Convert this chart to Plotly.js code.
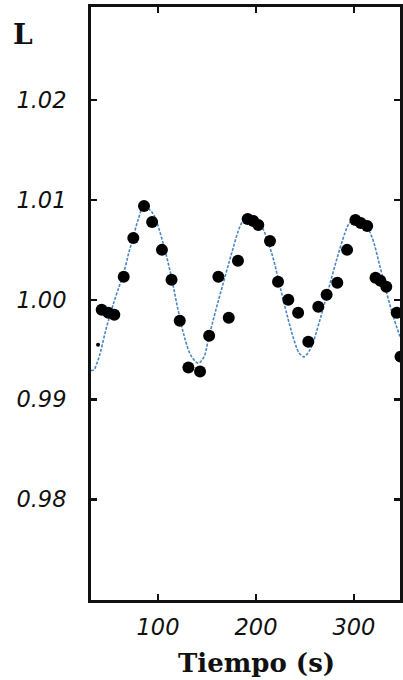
<!DOCTYPE html>
<html>
<head>
<meta charset="utf-8">
<script src="https://cdn.plot.ly/plotly-3.0.1.min.js"></script>
<style>html,body{margin:0;padding:0;background:#fff;}#chart{width:403px;height:680px;}</style>
</head>
<body>
<div id="chart"></div>
<script>
// Measured luminosity points
const dataTime = [38.8, 42.5, 49.3, 55.4, 65.0, 74.8, 85.7, 94.0, 104.0, 113.8, 122.2, 131.0, 142.9, 152.2, 161.6, 172.2, 181.6, 191.5, 197.3, 202.4, 214.3, 222.5, 233.0, 243.0, 253.4, 263.6, 272.1, 283.0, 293.0, 301.5, 307.0, 313.5, 322.0, 327.0, 333.0, 343.6, 347.5];
const dataL    = [0.9955, 0.9990, 0.9987, 0.9985, 1.0023, 1.0062, 1.0094, 1.0078, 1.0050, 1.0020, 0.9979, 0.9932, 0.9928, 0.9964, 1.0023, 0.9982, 1.0039, 1.0081, 1.0079, 1.0075, 1.0059, 1.0018, 1.0000, 0.9987, 0.9958, 0.9993, 1.0005, 1.0017, 1.0050, 1.0080, 1.0077, 1.0074, 1.0022, 1.0019, 1.0013, 0.9987, 0.9943];
const markerSizes = [4, 12, 12, 12, 12, 12, 12, 12, 12, 12, 12, 12, 12, 12, 12, 12, 12, 12, 12, 12, 12, 12, 12, 12, 12, 12, 12, 12, 12, 12, 12, 12, 12, 12, 12, 12, 12];

// Fitted curve
const fitTime = [31.6, 34.7, 37.0, 40.5, 43.9, 47.2, 50.7, 54.1, 59.2, 65.3, 70.4, 74.8, 79.6, 85.7, 91.8, 96.6, 105.1, 113.6, 120.4, 127.2, 133.7, 141.1, 146.9, 151.3, 158.2, 166.6, 175.2, 183.7, 188.8, 193.9, 199.0, 205.8, 216.0, 224.5, 233.0, 239.8, 243.9, 249.0, 253.1, 256.8, 265.3, 273.8, 282.3, 290.8, 294.9, 299.3, 304.1, 309.5, 318.1, 326.5, 333.4, 340.1, 346.9];
const fitL    = [0.9929, 0.99298, 0.99348, 0.99448, 0.99582, 0.99716, 0.99833, 0.9995, 1.0010, 1.0028, 1.0048, 1.0063, 1.0080, 1.0094, 1.0090, 1.0083, 1.0057, 1.0023, 0.9990, 0.9962, 0.9944, 0.99365, 0.99428, 0.99599, 0.99867, 1.00167, 1.00468, 1.00735, 1.0082, 1.00836, 1.00812, 1.00735, 1.00468, 1.00133, 0.99799, 0.99566, 0.99468, 0.99428, 0.99468, 0.99532, 0.99799, 1.0010, 1.0040, 1.00669, 1.00762, 1.00802, 1.00812, 1.00785, 1.00635, 1.00334, 1.00067, 0.99833, 0.99632];

const xTicks = [100, 200, 300];
const yTicks = [0.98, 0.99, 1.00, 1.01, 1.02];
const yTickText = ['0.98', '0.99', '1.00', '1.01', '1.02'];

const tickFont = {family: 'DejaVu Sans', size: 22.5, style: 'italic', color: '#111'};

const traces = [
  {
    x: fitTime, y: fitL, type: 'scatter', mode: 'lines',
    line: {color: '#4a86c4', width: 1.6, dash: '3px,1.5px', shape: 'spline', smoothing: 1.0},
    hoverinfo: 'skip', showlegend: false
  },
  {
    x: dataTime, y: dataL, type: 'scatter', mode: 'markers',
    marker: {color: '#000', size: markerSizes, opacity: 1, line: {width: 0}},
    showlegend: false
  }
];

const axisCommon = {
  showline: true, linecolor: '#111', linewidth: 3, mirror: 'ticks',
  ticks: 'inside', ticklen: 6, tickwidth: 2.5, tickcolor: '#111',
  showgrid: false, zeroline: false, tickfont: tickFont
};

const layout = {
  width: 403, height: 680,
  margin: {l: 91, r: 3, t: 7, b: 80},
  paper_bgcolor: '#fff', plot_bgcolor: '#fff',
  showlegend: false,
  xaxis: Object.assign({}, axisCommon, {
    range: [31.6, 347], tickvals: xTicks, ticktext: xTicks.map(String),
    ticklabelstandoff: 5
  }),
  yaxis: Object.assign({}, axisCommon, {
    range: [0.96991, 1.02934], tickvals: yTicks, ticktext: yTickText,
    ticklabelstandoff: 17
  }),
  annotations: [
    {
      text: 'L', xref: 'paper', yref: 'paper', x: -0.22, y: 0.953,
      xanchor: 'center', yanchor: 'middle', showarrow: false,
      font: {family: 'DejaVu Serif', size: 28, weight: 'bold', color: '#111'}
    },
    {
      text: 'Tiempo (s)', xref: 'paper', yref: 'paper', x: (256 - 91) / 309, y: -63 / 593,
      xanchor: 'center', yanchor: 'middle', showarrow: false,
      font: {family: 'DejaVu Serif', size: 26, weight: 'bold', color: '#111'}
    }
  ]
};

Plotly.newPlot('chart', traces, layout, {displayModeBar: false, staticPlot: true});
</script>
</body>
</html>
